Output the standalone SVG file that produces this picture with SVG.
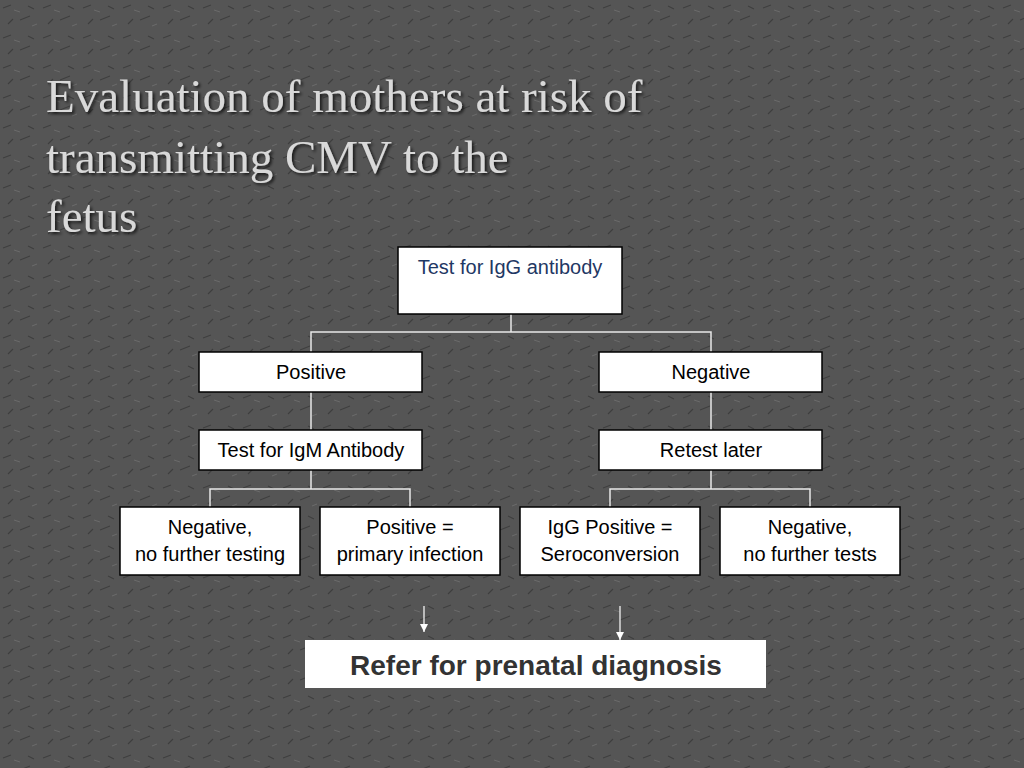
<svg xmlns="http://www.w3.org/2000/svg" width="1024" height="768" viewBox="0 0 1024 768">
<defs>
<style>
.box{fill:#fff;stroke:#000;stroke-width:1.5}
.t{font-family:"Liberation Sans",Arial,sans-serif;font-size:20px;fill:#000;text-anchor:middle}
.c{stroke:#e8e8e8;stroke-width:1.5;fill:none}
.title{font-family:"Liberation Serif","DejaVu Serif",serif;font-size:47px;fill:#d9d9d9}
</style>
<marker id="ah" markerWidth="8" markerHeight="8" refX="4" refY="7" orient="auto" markerUnits="userSpaceOnUse"><path d="M0,0 L8,0 L4,8 z" fill="#fff" transform="rotate(-90 4 4)"/></marker>
<filter id="sh"><feDropShadow dx="2" dy="2" stdDeviation="1.5" flood-color="#000" flood-opacity="0.7"/></filter>
<pattern id="tex" width="40" height="30" patternUnits="userSpaceOnUse"><rect width="40" height="30" fill="#555"/><path d="M3,8 l8,-3 M20,20 l10,-4 M28,6 l6,3 M8,24 l5,-5" stroke="#3e3e3e" stroke-width="1.2"/><path d="M14,10 l6,2 M32,26 l5,-2" stroke="#6a6a6a" stroke-width="1"/></pattern>
</defs>
<rect width="1024" height="768" fill="url(#tex)"/>
<g id="title" filter="url(#sh)">
<text class="title" x="46" y="112">Evaluation of mothers at risk of</text>
<text class="title" x="46" y="173">transmitting CMV to the</text>
<text class="title" x="46" y="232">fetus</text>
</g>
<g id="connectors">
<path class="c" d="M511,314 V332 M311,352 V332 H711 V352"/>
<path class="c" d="M311,392 V430 M711,392 V430"/>
<path class="c" d="M311,470 V489 M210,507 V489 H410 V507"/>
<path class="c" d="M711,470 V489 M610,507 V489 H810 V507"/>
<line x1="424" y1="606" x2="424" y2="632" stroke="#fff" stroke-width="1.2"/>
<path d="M420,624 L428,624 L424,632 z" fill="#fff"/>
<line x1="620" y1="606" x2="620" y2="640" stroke="#fff" stroke-width="1.2"/>
<path d="M616,632 L624,632 L620,640 z" fill="#fff"/>
</g>
<g id="n_igg"><rect class="box" x="398" y="247" width="224" height="67"/><text class="t" x="510" y="274" style="fill:#1f3864">Test for IgG antibody</text></g>
<g id="n_pos"><rect class="box" x="199" y="352" width="223" height="40"/><text class="t" x="311" y="379">Positive</text></g>
<g id="n_neg"><rect class="box" x="599" y="352" width="223" height="40"/><text class="t" x="711" y="379">Negative</text></g>
<g id="n_igm"><rect class="box" x="199" y="430" width="223" height="40"/><text class="t" x="311" y="457">Test for IgM Antibody</text></g>
<g id="n_retest"><rect class="box" x="599" y="430" width="223" height="40"/><text class="t" x="711" y="457">Retest later</text></g>
<g id="n_b1"><rect class="box" x="120" y="507" width="180" height="68"/><text class="t" x="210" y="534">Negative,</text><text class="t" x="210" y="561">no further testing</text></g>
<g id="n_b2"><rect class="box" x="320" y="507" width="180" height="68"/><text class="t" x="410" y="534">Positive =</text><text class="t" x="410" y="561">primary infection</text></g>
<g id="n_b3"><rect class="box" x="520" y="507" width="180" height="68"/><text class="t" x="610" y="534">IgG Positive =</text><text class="t" x="610" y="561">Seroconversion</text></g>
<g id="n_b4"><rect class="box" x="720" y="507" width="180" height="68"/><text class="t" x="810" y="534">Negative,</text><text class="t" x="810" y="561">no further tests</text></g>
<g id="n_refer"><rect x="305" y="640" width="461" height="48" fill="#fff"/><text x="536" y="675" style="font-family:'Liberation Sans',Arial,sans-serif;font-size:28px;font-weight:bold;fill:#333;text-anchor:middle">Refer for prenatal diagnosis</text></g>
</svg>
